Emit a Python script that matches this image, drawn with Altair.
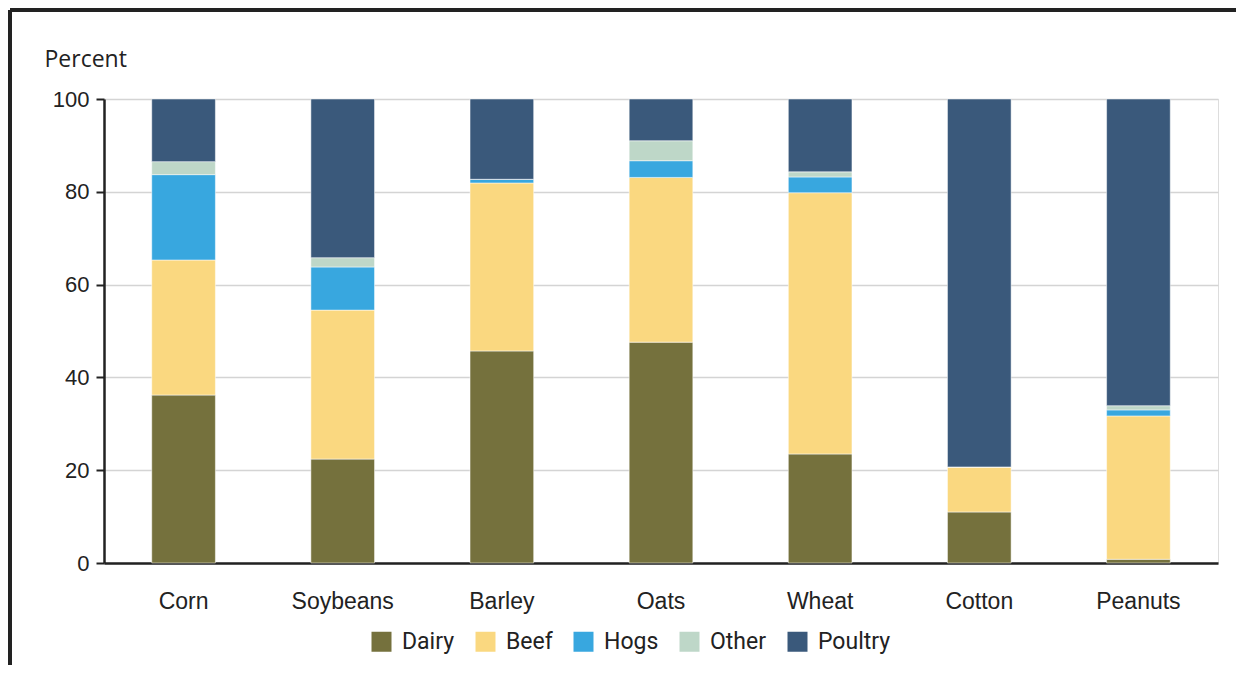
import altair as alt
import pandas as pd

crops = ["Corn", "Soybeans", "Barley", "Oats", "Wheat", "Cotton", "Peanuts"]
series = ["Dairy", "Beef", "Hogs", "Other", "Poultry"]
colors = ["#75713D", "#FAD880", "#38A7DF", "#BED7C8", "#3A597B"]

dairy = [36.2, 22.4, 45.7, 47.6, 23.5, 11.0, 0.8]
beef = [29.1, 32.1, 36.2, 35.5, 56.3, 9.7, 30.9]
hogs = [18.4, 9.3, 0.8, 3.6, 3.4, 0.0, 1.3]
other = [2.8, 2.0, 0.0, 4.3, 1.1, 0.0, 0.9]
poultry = [13.5, 34.2, 17.3, 9.0, 15.7, 79.3, 66.1]

y_ticks = [0, 20, 40, 60, 80, 100]

vals = {"Dairy": dairy, "Beef": beef, "Hogs": hogs, "Other": other, "Poultry": poultry}
rows = []
for si, s in enumerate(series):
    for ci, c in enumerate(crops):
        rows.append({"crop": c, "series": s, "value": vals[s][ci], "order": si})
df = pd.DataFrame(rows)

W, H = 1114, 464
ink = "#222222"

bars = alt.Chart(df).mark_bar(stroke="white", strokeWidth=0.5).encode(
    x=alt.X("crop:N", sort=crops,
            scale=alt.Scale(paddingInner=0.6, paddingOuter=0.3),
            axis=alt.Axis(title=None, labelAngle=0, ticks=False, tickSize=0,
                          domainColor=ink, domainWidth=2.5,
                          labelFont="Liberation Sans", labelFontSize=23, labelColor=ink,
                          labelPadding=27)),
    y=alt.Y("value:Q", stack="zero",
            scale=alt.Scale(domain=[0, 100], nice=False),
            axis=alt.Axis(values=y_ticks, title="Percent", titleAngle=0,
                          titleX=-60, titleY=-33, titleAlign="left",
                          titleBaseline="alphabetic", titleFont="Open Sans",
                          titleFontSize=23, titleFontWeight="normal", titleColor=ink,
                          labelFont="Liberation Sans", labelFontSize=22, labelColor=ink,
                          labelPadding=7, tickColor=ink, tickSize=8, tickWidth=2,
                          domainColor=ink, domainWidth=2.5,
                          gridColor="#d4d4d4", gridWidth=1.5)),
    color=alt.Color("series:N", sort=series,
                    scale=alt.Scale(domain=series, range=colors),
                    legend=alt.Legend(title=None, orient="none", direction="horizontal",
                                      legendX=266, legendY=531,
                                      symbolType="square", symbolSize=400,
                                      symbolStrokeWidth=0,
                                      labelFont="Roboto", labelFontSize=23,
                                      labelColor=ink, labelOffset=9,
                                      columnPadding=19)),
    order=alt.Order("order:Q", sort="ascending"),
)

left_rule = alt.Chart(df).mark_rule(color=ink, strokeWidth=3).encode(
    x=alt.value(-94), y=alt.value(-89), y2=alt.value(566)
)
top_rule = alt.Chart(df).mark_rule(color=ink, strokeWidth=3).encode(
    x=alt.value(-94), x2=alt.value(1132), y=alt.value(-89)
)

chart = alt.layer(bars, left_rule, top_rule).properties(
    width=W, height=H, padding=0
).configure_view(stroke=None).configure(background="white")

chart.save("out.html", embed_options={"renderer": "svg", "actions": False})
